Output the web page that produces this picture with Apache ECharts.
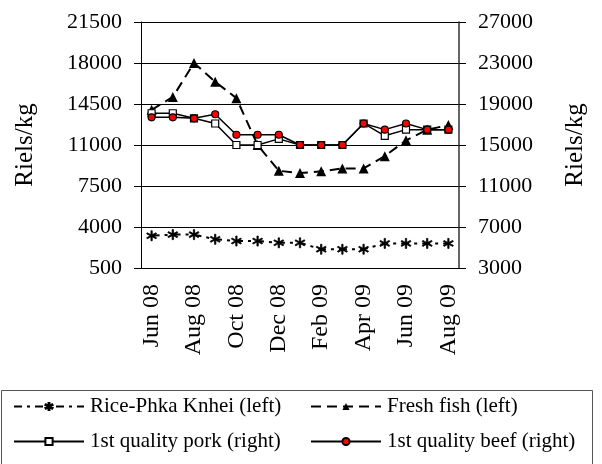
<!DOCTYPE html>
<html>
<head>
<meta charset="utf-8">
<script src="https://cdn.jsdelivr.net/npm/echarts@6/dist/echarts.min.js"></script>
<style>html,body{margin:0;padding:0;background:#fff}#c{width:602px;height:464px}</style>
</head>
<body>
<div id="c"></div>
<script>
const categories = ['Jun 08','Jul 08','Aug 08','Sep 08','Oct 08','Nov 08','Dec 08','Jan 09','Feb 09','Mar 09','Apr 09','May 09','Jun 09','Jul 09','Aug 09'];
const rice = [3250, 3350, 3350, 2950, 2800, 2800, 2650, 2650, 2100, 2100, 2100, 2600, 2600, 2600, 2600];
const fish = [14000, 15100, 18000, 16400, 15000, 11000, 8800, 8600, 8750, 9000, 9000, 10050, 11400, 12300, 12700];
const pork = [18100, 18100, 17600, 17100, 15000, 15000, 15600, 15000, 15000, 15000, 17100, 15900, 16500, 16500, 16500];
const beef = [17700, 17700, 17600, 18000, 16000, 16000, 16000, 15000, 15000, 15000, 17100, 16500, 17100, 16500, 16500];
const leftTicks = {min: 500, max: 21500, interval: 3500};
const rightTicks = {min: 3000, max: 27000, interval: 4000};
const seriesNames = ['Rice-Phka Knhei (left)', 'Fresh fish (left)', '1st quality pork (right)', '1st quality beef (right)'];

const FONT = 'Liberation Serif';
const asterisk = 'path://M4.4,0 L5.6,0 L5.6,10 L4.4,10 Z M9.03,1.98 L9.63,3.02 L0.97,8.02 L0.37,6.98 Z M0.37,3.02 L0.97,1.98 L9.63,6.98 L9.03,8.02 Z';

const chart = echarts.init(document.getElementById('c'), null, {renderer: 'canvas'});
function legendAt(name, left, top) {
  return {
    data: [name], left: left, top: top, padding: 0, itemWidth: 70, itemHeight: 9, itemGap: 0,
    textStyle: {fontFamily: FONT, fontSize: 21, color: '#000', padding: [0, 0, 0, 1]},
    selectedMode: false
  };
}
const numFmt = v => String(v);
chart.setOption({
  animation: false,
  backgroundColor: '#fff',
  textStyle: {fontFamily: FONT},
  grid: {left: 141, right: 143, top: 22, bottom: 196, containLabel: false},
  legend: [
    legendAt(seriesNames[0], 13, 396),
    legendAt(seriesNames[1], 310, 396),
    legendAt(seriesNames[2], 13, 431),
    legendAt(seriesNames[3], 310, 431)
  ],
  graphic: [{
    type: 'rect', shape: {x: 1.5, y: 390.5, width: 591, height: 90},
    style: {fill: 'none', stroke: '#555', lineWidth: 1}, z: -1
  }],
  xAxis: {
    type: 'category', data: categories, boundaryGap: true,
    axisLine: {lineStyle: {color: '#000', width: 1}},
    axisTick: {interval: 1, length: 7, lineStyle: {color: '#000'}},
    axisLabel: {interval: 1, rotate: 90, margin: 16, fontFamily: FONT, fontSize: 24, color: '#000'}
  },
  yAxis: [{
    type: 'value', position: 'left', min: leftTicks.min, max: leftTicks.max, interval: leftTicks.interval,
    name: 'Riels/kg', nameLocation: 'middle', nameRotate: 90, nameGap: 103,
    nameTextStyle: {fontFamily: FONT, fontSize: 25, color: '#000'},
    axisLine: {show: true, lineStyle: {color: '#000', width: 1}},
    axisTick: {show: true, length: 7, lineStyle: {color: '#000'}},
    axisLabel: {margin: 19, fontFamily: FONT, fontSize: 22, color: '#000', formatter: numFmt},
    splitLine: {show: true, lineStyle: {color: '#000', width: 1}}
  }, {
    type: 'value', position: 'right', min: rightTicks.min, max: rightTicks.max, interval: rightTicks.interval,
    name: 'Riels/kg', nameLocation: 'middle', nameRotate: 90, nameGap: 104,
    nameTextStyle: {fontFamily: FONT, fontSize: 25, color: '#000'},
    axisLine: {show: true, lineStyle: {color: '#333', width: 1.5}},
    axisTick: {show: true, length: 7, lineStyle: {color: '#000'}},
    axisLabel: {margin: 19, fontFamily: FONT, fontSize: 22, color: '#000', formatter: numFmt},
    splitLine: {show: false}
  }],
  series: [{
    name: seriesNames[0], type: 'line', yAxisIndex: 0, data: rice,
    symbol: asterisk, symbolSize: 10, showAllSymbol: true,
    lineStyle: {color: '#000', width: 2, type: [8, 5, 3, 5]},
    itemStyle: {color: '#000', borderColor: '#000', borderWidth: 0.8}, z: 2
  }, {
    name: seriesNames[1], type: 'line', yAxisIndex: 0, data: fish,
    symbol: 'triangle', symbolSize: 10, showAllSymbol: true,
    lineStyle: {color: '#000', width: 2, type: [10, 6]},
    itemStyle: {color: '#000', borderWidth: 0}, z: 3
  }, {
    name: seriesNames[2], type: 'line', yAxisIndex: 1, data: pork,
    symbol: 'rect', symbolSize: 7, showAllSymbol: true,
    lineStyle: {color: '#000', width: 1.5},
    itemStyle: {color: '#fff', borderColor: '#000', borderWidth: 1.2}, z: 4
  }, {
    name: seriesNames[3], type: 'line', yAxisIndex: 1, data: beef,
    symbol: 'circle', symbolSize: 7, showAllSymbol: true,
    lineStyle: {color: '#000', width: 1.5},
    itemStyle: {color: '#ff0000', borderColor: '#000', borderWidth: 1.2}, z: 5
  }]
});
</script>
</body>
</html>
